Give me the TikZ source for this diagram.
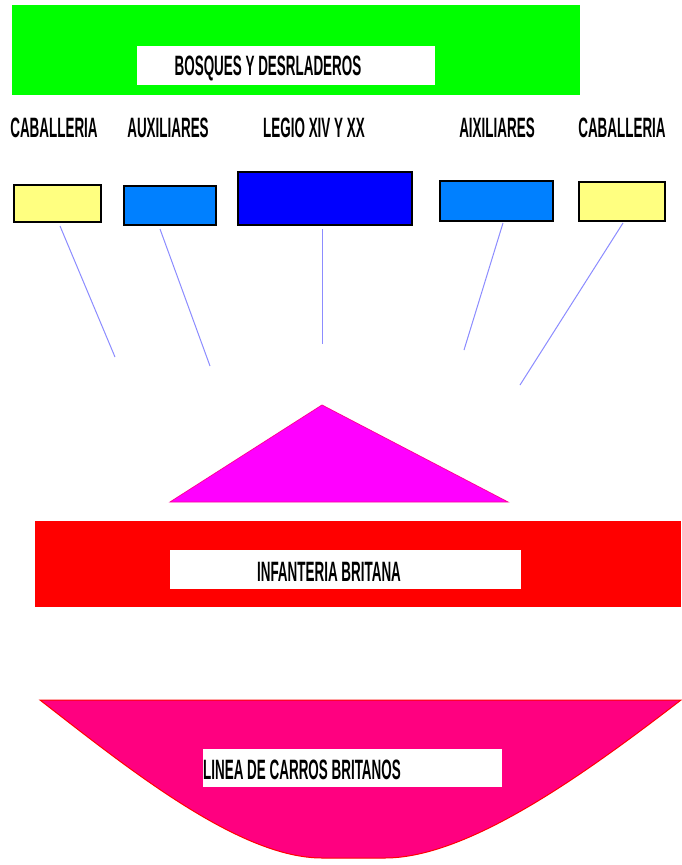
\documentclass[tikz,border=0pt]{standalone}
\usepackage{fontspec}
\setmainfont{Liberation Sans}[FakeStretch=0.48]
\begin{document}
\begin{tikzpicture}[x=1pt,y=-1pt,
  lbl/.style={font=\fontsize{28}{28}\selectfont\bfseries, inner sep=0pt, anchor=center},
  unitbox/.style={draw=black, line width=2pt, inner sep=0pt, anchor=north west},
  whitebox/.style={fill=white, draw=none, inner sep=0pt, anchor=north west},
  link/.style={draw=linkblue, line width=1pt}]
\definecolor{linkblue}{RGB}{140,140,255}
\definecolor{cyel}{RGB}{255,255,128}
\definecolor{cblue}{RGB}{0,128,255}
\definecolor{cdark}{RGB}{0,0,255}
\definecolor{cgreen}{RGB}{0,255,0}
\definecolor{cmag}{RGB}{255,0,255}
\definecolor{cpink}{RGB}{255,0,128}
\useasboundingbox (0,0) rectangle (681,865);
\fill[white] (0,0) rectangle (681,865);
% green band
\node[fill=cgreen, inner sep=0pt, anchor=north west, minimum width=568pt, minimum height=90pt] (green) at (12,5) {};
\node[whitebox, minimum width=298pt, minimum height=39pt] (wb1) at (137,46) {};
\node[lbl] (t1) at (268,68) {BOSQUES Y DESRLADEROS};
% labels
\node[lbl] (l1) at (54,128) {CABALLERIA};
\node[lbl] (l2) at (168,128) {AUXILIARES};
\node[lbl] (l3) at (314,128) {LEGIO XIV Y XX};
\node[lbl] (l4) at (497,128) {AIXILIARES};
\node[lbl] (l5) at (622,128) {CABALLERIA};
% unit boxes
\node[unitbox, fill=cyel, minimum width=87pt, minimum height=37pt] (b1) at (13,184) {};
\node[unitbox, fill=cblue, minimum width=92pt, minimum height=39pt] (b2) at (123,185) {};
\node[unitbox, fill=cdark, minimum width=174pt, minimum height=53pt] (b3) at (237,171) {};
\node[unitbox, fill=cblue, minimum width=113pt, minimum height=40pt] (b4) at (439,180) {};
\node[unitbox, fill=cyel, minimum width=86pt, minimum height=39pt] (b5) at (578,181) {};
% connector ends
\coordinate (s1) at (60,226);
\coordinate (s2) at (160,229);
\coordinate (s3) at (322,229);
\coordinate (s4) at (503,223);
\coordinate (s5) at (623,223);
\coordinate (e1) at (115,357);
\coordinate (e2) at (210,366);
\coordinate (e3) at (322,344);
\coordinate (e4) at (464,350);
\coordinate (e5) at (520,385);
\draw[link] (s1) -- (e1);
\draw[link] (s2) -- (e2);
\draw[link] (s3) -- (e3);
\draw[link] (s4) -- (e4);
\draw[link] (s5) -- (e5);
% triangle
\coordinate (apex) at (322,405);
\coordinate (bl) at (170,502);
\coordinate (br) at (508,502);
\filldraw[fill=cmag, draw=red!40!cmag, line width=0.8pt] (apex) -- (br) -- (bl) -- cycle;
% red band
\node[fill=red, inner sep=0pt, anchor=north west, minimum width=646pt, minimum height=86pt] (redband) at (35,521) {};
\node[whitebox, minimum width=351pt, minimum height=39pt] (wb2) at (170,550) {};
\node[lbl] (t2) at (329,572) {INFANTERIA BRITANA};
% bottom bowl
\filldraw[fill=cpink, draw=red, line width=1pt] (40,700) -- (681,700) .. controls (590,770) and (470,858) .. (385,858) -- (322,858) .. controls (240,858) and (130,770) .. (40,700) -- cycle;
\node[whitebox, minimum width=299pt, minimum height=38pt] (wb3) at (203,749) {};
\node[lbl, anchor=west] (t3) at (203,770) {LINEA DE CARROS BRITANOS};
\end{tikzpicture}
\end{document}
